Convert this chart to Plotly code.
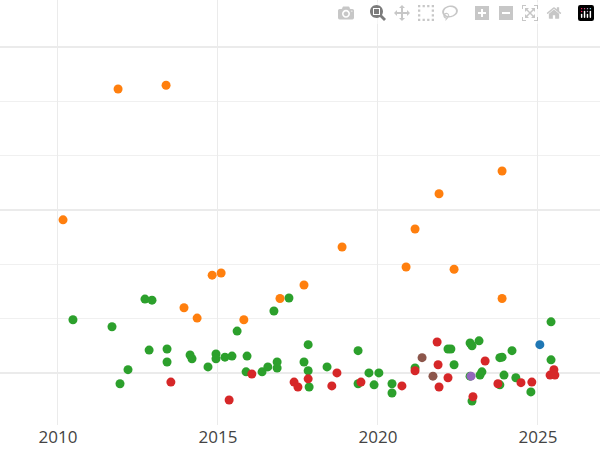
import plotly.graph_objects as go

orange_x = [2011.88, 2013.38, 2010.16, 2021.91, 2023.88, 2021.16, 2018.88, 2020.88, 2022.38, 2014.82, 2015.10, 2017.69, 2016.94, 2023.88, 2013.94, 2014.35, 2015.81]
orange_y = [5.23, 5.30, 2.82, 3.30, 3.72, 2.65, 2.32, 1.95, 1.91, 1.80, 1.84, 1.62, 1.37, 1.37, 1.20, 1.01, 0.98]

green_x = [2010.47, 2011.69, 2011.94, 2012.19, 2012.72, 2012.94, 2012.85, 2013.41, 2013.41, 2014.13, 2014.19, 2014.69, 2014.94, 2014.94, 2015.22, 2015.44, 2015.60, 2015.91, 2015.88, 2016.38, 2016.56, 2016.75, 2016.85, 2016.85, 2017.22, 2017.69, 2017.82, 2017.82, 2017.85, 2018.41, 2019.38, 2019.38, 2019.72, 2019.88, 2020.03, 2020.44, 2020.44, 2021.16, 2022.19, 2022.28, 2022.38, 2022.88, 2022.94, 2022.88, 2022.94, 2023.16, 2023.19, 2023.25, 2023.81, 2023.88, 2023.94, 2024.19, 2024.31, 2024.78, 2025.41, 2025.41, 2023.81]
green_y = [0.98, 0.85, -0.20, 0.06, 1.36, 1.34, 0.42, 0.44, 0.20, 0.33, 0.26, 0.11, 0.35, 0.26, 0.29, 0.31, 0.77, 0.31, 0.02, 0.02, 0.11, 1.14, 0.20, 0.09, 1.38, 0.20, 0.52, 0.04, -0.26, 0.11, 0.41, -0.20, 0.0, -0.22, 0.0, -0.20, -0.37, 0.09, 0.44, 0.44, 0.15, 0.55, 0.50, -0.06, -0.52, 0.59, -0.04, 0.02, 0.28, 0.29, -0.04, 0.41, -0.09, -0.35, 0.94, 0.24, -0.22]

red_x = [2013.53, 2015.35, 2016.06, 2017.38, 2017.50, 2017.82, 2018.56, 2018.72, 2019.47, 2020.75, 2021.16, 2021.85, 2021.88, 2021.91, 2022.19, 2022.97, 2023.35, 2023.75, 2024.47, 2024.81, 2025.38, 2025.50, 2025.53]
red_y = [-0.17, -0.50, -0.02, -0.17, -0.26, -0.11, -0.24, 0.0, -0.17, -0.24, 0.04, 0.57, 0.15, -0.26, -0.09, -0.44, 0.22, -0.20, -0.18, -0.17, -0.04, 0.06, -0.04]

brown_x = [2021.38, 2021.72]
brown_y = [0.28, -0.06]
purple_x = [2022.91]
purple_y = [-0.06]
blue_x = [2025.06]
blue_y = [0.52]

fig = go.Figure()
for xs, ys, c in [(green_x, green_y, "#2ca02c"), (orange_x, orange_y, "#ff7f0e"),
                  (red_x, red_y, "#d62728"), (brown_x, brown_y, "#8c564b"),
                  (purple_x, purple_y, "#9467bd"), (blue_x, blue_y, "#1f77b4")]:
    fig.add_trace(go.Scatter(x=xs, y=ys, mode="markers",
                             marker=dict(color=c, size=9)))

fig.update_layout(
    width=600, height=450, template="plotly_white", showlegend=False,
    margin=dict(l=0, r=0, t=0, b=25),
    plot_bgcolor="white",
    xaxis=dict(range=[2008.19, 2026.94], dtick=5, tick0=2010, showgrid=True,
               gridcolor="#ebebeb", zeroline=False,
               tickfont=dict(size=17, color="#444")),
    yaxis=dict(range=[-0.96, 6.87], dtick=3, tick0=0, showticklabels=False,
               gridcolor="#ebebeb", gridwidth=2, zeroline=False,
               minor=dict(dtick=1, showgrid=True, gridcolor="#f0f0f0", gridwidth=1)),
)
fig.write_html("out.html",
               post_script="document.body.style.margin='0';document.body.style.overflow='hidden';")
